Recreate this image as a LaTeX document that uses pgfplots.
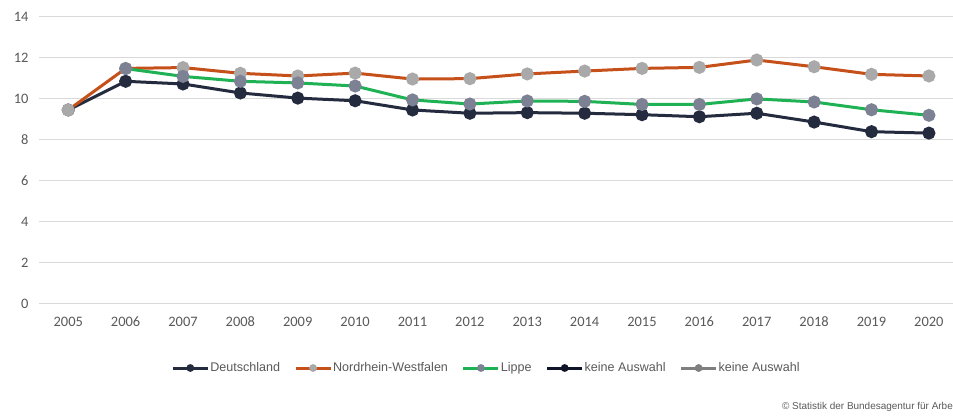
\documentclass[border=0pt]{standalone}
\usepackage{pgfplots}
\pgfplotsset{compat=1.18}
\usepackage{fontspec}
\setmainfont{Carlito}
\newfontfamily\arialf{Liberation Sans}
\definecolor{navy}{HTML}{252B3F}
\definecolor{nrwor}{HTML}{C5501A}
\definecolor{lgreen}{HTML}{1FB254}
\definecolor{nrwmk}{HTML}{A9A9A9}
\definecolor{lipmk}{HTML}{7C8194}
\definecolor{ka1}{HTML}{0F1428}
\definecolor{ka2}{HTML}{7F7F7F}
\definecolor{gridgray}{HTML}{D9D9D9}
\definecolor{labgray}{HTML}{595959}
\begin{document}
\begin{tikzpicture}
\begin{axis}[
  at={(39bp,112.3bp)}, anchor=south west,
  scale only axis, width=914bp, height=286.7bp,
  xmin=2004.49, xmax=2020.42, ymin=0, ymax=14,
  xtick={2005,...,2020}, ytick={0,2,...,14},
  /pgf/number format/1000 sep={},
  /pgf/number format/assume math mode=true,
  axis line style={draw=none},
  major tick length=0pt,
  ymajorgrids, major grid style={draw=gridgray, line width=1bp},
  tick label style={font=\fontsize{14.5}{16}\selectfont, text=labgray},
  yticklabel style={xshift=-7bp},
  xticklabel style={yshift=-10bp, text height=9.5bp, text depth=0pt},
  legend columns=5,
  legend style={at={(0.489,-0.2243)}, anchor=center, draw=none, fill=none,
    font=\arialf\fontsize{12.6}{14}\selectfont, text=labgray,
    /tikz/every even column/.append style={column sep=13bp},
    nodes={inner sep=1bp}},
  every axis plot/.append style={line width=3bp, mark=*, mark size=5bp},
  clip=false,
]
\addplot[forget plot, navy, mark options={fill=navy, draw=navy}] coordinates {
(2005,9.46) (2006,10.86) (2007,10.73) (2008,10.29) (2009,10.04) (2010,9.91)
(2011,9.46) (2012,9.30) (2013,9.33) (2014,9.30) (2015,9.23) (2016,9.13)
(2017,9.30) (2018,8.87) (2019,8.40) (2020,8.33)};
\addplot[forget plot, nrwor, mark options={fill=nrwmk, draw=nrwmk}] coordinates {
(2005,9.46) (2006,11.49) (2007,11.53) (2008,11.25) (2009,11.12) (2010,11.26)
(2011,10.97) (2012,10.99) (2013,11.22) (2014,11.36) (2015,11.49) (2016,11.54)
(2017,11.90) (2018,11.57) (2019,11.20) (2020,11.12)};
\addplot[forget plot, lgreen, mark options={fill=lipmk, draw=lipmk}] coordinates {
(2006,11.48) (2007,11.10) (2008,10.86) (2009,10.78) (2010,10.63)
(2011,9.95) (2012,9.75) (2013,9.90) (2014,9.88) (2015,9.73) (2016,9.73)
(2017,10.00) (2018,9.85) (2019,9.47) (2020,9.20)};
\addlegendimage{legend image code/.code={\draw[navy,line width=3bp] (0bp,0bp)--(35bp,0bp); \fill[navy] (17.5bp,0bp) circle (2.3bp);}}
\addlegendentry{Deutschland}
\addlegendimage{legend image code/.code={\draw[nrwor,line width=3bp] (0bp,0bp)--(35bp,0bp); \fill[nrwmk] (17.5bp,0bp) circle (2.3bp);}}
\addlegendentry{Nordrhein-Westfalen}
\addlegendimage{legend image code/.code={\draw[lgreen,line width=3bp] (0bp,0bp)--(35bp,0bp); \fill[lipmk] (17.5bp,0bp) circle (2.3bp);}}
\addlegendentry{Lippe}
\addlegendimage{legend image code/.code={\draw[ka1,line width=3bp] (0bp,0bp)--(35bp,0bp); \fill[ka1] (17.5bp,0bp) circle (2.3bp);}}
\addlegendentry{keine Auswahl}
\addlegendimage{legend image code/.code={\draw[ka2,line width=3bp] (0bp,0bp)--(35bp,0bp); \fill[ka2] (17.5bp,0bp) circle (2.3bp);}}
\addlegendentry{keine Auswahl}
\end{axis}
\node[anchor=east, inner sep=0pt, text=labgray, font=\arialf\fontsize{10}{12}\selectfont] at (953bp,9bp) {© Statistik der Bundesagentur für Arbe};
\pgfresetboundingbox
\path[use as bounding box] (0,0) rectangle (953bp,416bp);
\end{tikzpicture}
\end{document}
